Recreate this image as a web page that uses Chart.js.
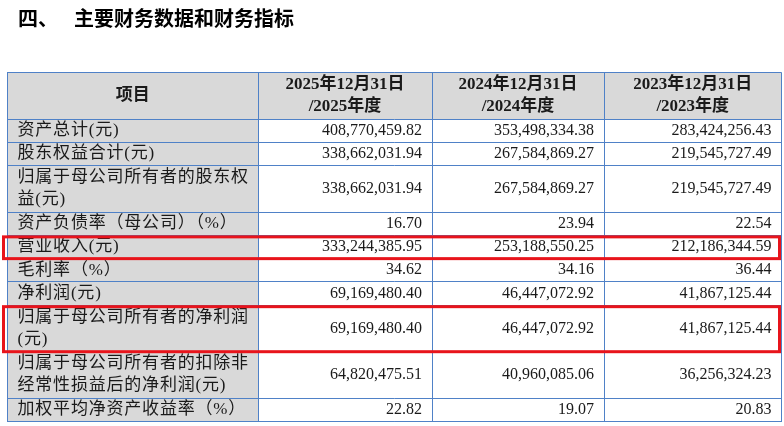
<!DOCTYPE html>
<html>
<head>
<meta charset="utf-8">
<script src="https://cdn.jsdelivr.net/npm/chart.js@4.4.1/dist/chart.umd.min.js"></script>
<style>
  html, body { margin: 0; padding: 0; background: #ffffff; }
  #wrap { width: 784px; height: 426px; position: relative; }
</style>
</head>
<body>
<div id="wrap"><canvas id="c" width="784" height="426"></canvas></div>
<script>
// ---------------- data ----------------
const sectionNo = '四、';
const sectionTitle = '主要财务数据和财务指标';
const columnHeaders = [
  ['项目'],
  ['2025年12月31日', '/2025年度'],
  ['2024年12月31日', '/2024年度'],
  ['2023年12月31日', '/2023年度']
];
const rowLabels = [
  ['资产总计(元)'],
  ['股东权益合计(元)'],
  ['归属于母公司所有者的股东权', '益(元)'],
  ['资产负债率（母公司）（%）'],
  ['营业收入(元)'],
  ['毛利率（%）'],
  ['净利润(元)'],
  ['归属于母公司所有者的净利润', '(元)'],
  ['归属于母公司所有者的扣除非', '经常性损益后的净利润(元)'],
  ['加权平均净资产收益率（%）']
];
const values2025 = [408770459.82, 338662031.94, 338662031.94, 16.70, 333244385.95, 34.62, 69169480.40, 69169480.40, 64820475.51, 22.82];
const values2024 = [353498334.38, 267584869.27, 267584869.27, 23.94, 253188550.25, 34.16, 46447072.92, 46447072.92, 40960085.06, 19.07];
const values2023 = [283424256.43, 219545727.49, 219545727.49, 22.54, 212186344.59, 36.44, 41867125.44, 41867125.44, 36256324.23, 20.83];
const highlightedRows = [4, 7];

// ---------------- layout / style ----------------
const COL_WIDTHS = [250.5, 174, 172, 177.5];
const LINE_COLOR = '#4f81c7';
const HEAD_BG = '#d9d9d9';
const HIGHLIGHT = '#e8141b';
const TEXT = '#1a1a1a';
const LINE_GAP = 22;
const PAD = 10;

const colEdges = COL_WIDTHS.reduce((a, w) => { a.push(a[a.length - 1] + w); return a; }, [0]);
const rowLineCounts = [Math.max(...columnHeaders.map(h => h.length))].concat(rowLabels.map(l => l.length));
const rowEdges = rowLineCounts.reduce((a, n) => { a.push(a[a.length - 1] + n); return a; }, [0]);
const rowCenter = i => (rowEdges[i + 1] + rowEdges[i + 2]) / 2; // data row i (after header)

const fmt = v => v.toLocaleString('en-US', { minimumFractionDigits: 2, maximumFractionDigits: 2 });
const valueSeries = [values2025, values2024, values2023];

const datasets = valueSeries.map((vals, c) => ({
  label: columnHeaders[c + 1].join(''),
  data: vals.map((v, i) => ({ x: colEdges[c + 2], y: rowCenter(i), v })),
  pointRadius: 0,
  pointHoverRadius: 0,
  showLine: false
}));

function drawLines(ctx, lines, x, yc) {
  const n = lines.length;
  lines.forEach((t, k) => ctx.fillText(t, x, yc + (k - (n - 1) / 2) * LINE_GAP));
}

const tablePlugin = {
  id: 'tablePlugin',
  beforeDraw(chart) {
    const { ctx, scales: { x, y } } = chart;
    const X = v => x.getPixelForValue(v), Y = v => y.getPixelForValue(v);
    ctx.save();
    ctx.fillStyle = HEAD_BG;
    ctx.fillRect(X(colEdges[0]), Y(rowEdges[0]), X(colEdges[colEdges.length - 1]) - X(colEdges[0]), Y(rowEdges[1]) - Y(rowEdges[0]));
    ctx.fillRect(X(colEdges[0]), Y(rowEdges[1]), X(colEdges[1]) - X(colEdges[0]), Y(rowEdges[rowEdges.length - 1]) - Y(rowEdges[1]));
    // section title
    ctx.fillStyle = '#000';
    ctx.font = 'bold 20px "Noto Sans CJK SC"';
    ctx.textBaseline = 'middle';
    ctx.textAlign = 'left';
    ctx.fillText(sectionNo, 18, 18);
    ctx.fillText(sectionTitle, 74, 18);
    ctx.restore();
  },
  afterDatasetsDraw(chart) {
    const { ctx, scales: { x, y } } = chart;
    const X = v => x.getPixelForValue(v), Y = v => y.getPixelForValue(v);
    ctx.save();
    ctx.textBaseline = 'middle';
    ctx.fillStyle = TEXT;
    // header
    ctx.font = 'bold 17px "Liberation Serif", "Noto Sans CJK SC"';
    ctx.textAlign = 'center';
    columnHeaders.forEach((h, c) => {
      drawLines(ctx, h, (X(colEdges[c]) + X(colEdges[c + 1])) / 2, (Y(rowEdges[0]) + Y(rowEdges[1])) / 2);
    });
    // row labels
    ctx.font = '17px "Liberation Serif", "Noto Sans CJK SC"';
    ctx.letterSpacing = '0.8px';
    ctx.textAlign = 'left';
    rowLabels.forEach((l, i) => drawLines(ctx, l, X(colEdges[0]) + PAD, Y(rowCenter(i))));
    ctx.letterSpacing = '0px';
    // values via dataset elements
    ctx.font = '16px "Liberation Serif"';
    ctx.textAlign = 'right';
    chart.data.datasets.forEach((ds, di) => {
      const meta = chart.getDatasetMeta(di);
      meta.data.forEach((el, i) => ctx.fillText(fmt(ds.data[i].v), el.x - PAD, el.y));
    });
    // highlight boxes
    ctx.strokeStyle = HIGHLIGHT;
    ctx.lineWidth = 3;
    highlightedRows.forEach(r => {
      const top = Y(rowEdges[r + 1]) + 1.5, bot = Y(rowEdges[r + 2]);
      const left = chart.chartArea.left - 4, right = chart.chartArea.right - 2;
      ctx.strokeRect(left, top, right - left, bot - top);
    });
    ctx.restore();
  }
};

const gridCfg = { color: LINE_COLOR, lineWidth: 1, drawTicks: false };
new Chart(document.getElementById('c'), {
  type: 'scatter',
  data: { datasets },
  options: {
    responsive: false,
    animation: false,
    events: [],
    layout: { padding: { top: 72.5, left: 7.5, right: 2.5, bottom: 4.5 } },
    plugins: { legend: { display: false }, tooltip: { enabled: false }, title: { display: false } },
    scales: {
      x: {
        type: 'linear', position: 'bottom', min: 0, max: colEdges[colEdges.length - 1],
        afterBuildTicks: s => { s.ticks = colEdges.map(v => ({ value: v })); },
        ticks: { display: false }, grid: gridCfg, border: { display: true, color: LINE_COLOR, width: 1 }
      },
      y: {
        type: 'linear', position: 'left', reverse: true, min: 0, max: rowEdges[rowEdges.length - 1],
        afterBuildTicks: s => { s.ticks = rowEdges.map(v => ({ value: v })); },
        ticks: { display: false }, grid: gridCfg, border: { display: true, color: LINE_COLOR, width: 1 }
      }
    }
  },
  plugins: [tablePlugin]
});
</script>
</body>
</html>
